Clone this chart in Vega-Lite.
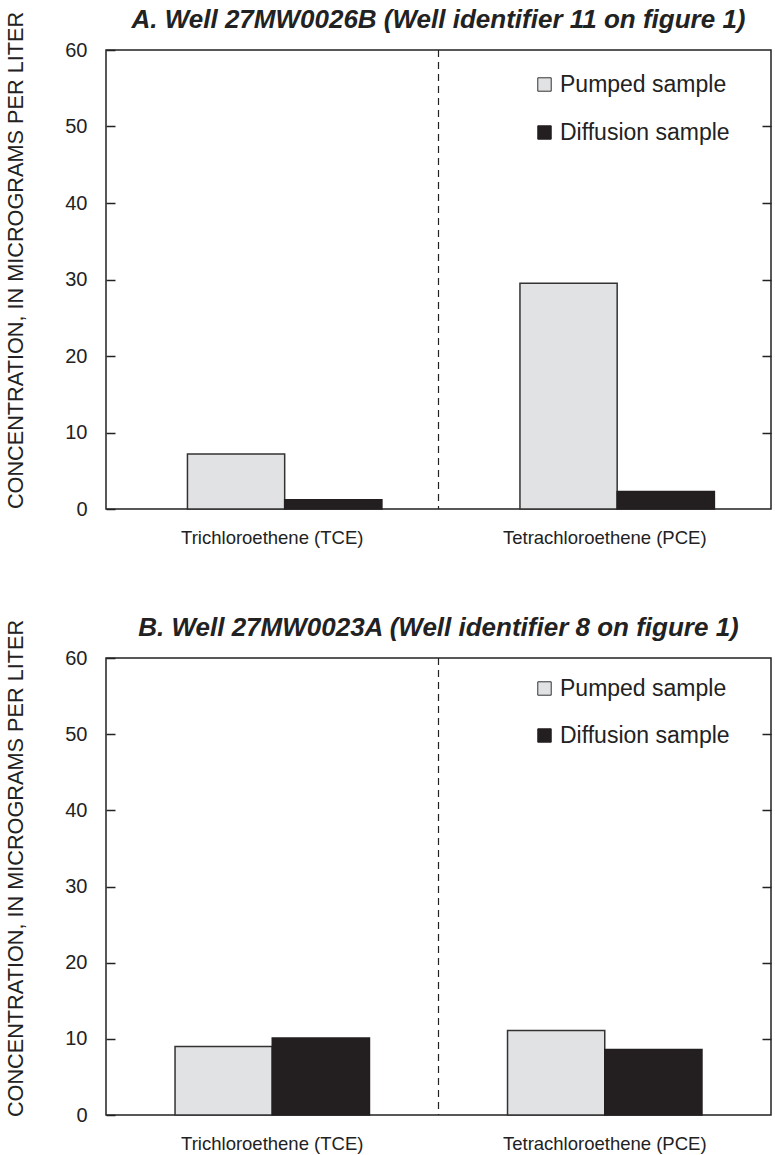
{
  "$schema": "https://vega.github.io/schema/vega-lite/v6.json",
  "background": "white",
  "padding": {"left": 5, "top": 6, "right": 5, "bottom": 0},
  "config": {
    "font": "Liberation Sans",
    "view": {"stroke": "#222", "strokeWidth": 1.5},
    "axis": {"labelColor": "#222", "titleColor": "#222", "labelFont": "Liberation Sans", "titleFont": "Liberation Sans", "domain": false, "grid": false, "labelLimit": 0},
    "legend": {"labelLimit": 0},
    "title": {"font": "Liberation Sans", "fontSize": 26, "fontWeight": "bold", "fontStyle": "italic", "color": "#222", "offset": -22}
  },
  "datasets": {
    "conc": [
      {"panel": "A", "compound": "Trichloroethene (TCE)", "sample": "Pumped sample", "value": 7.2},
      {"panel": "A", "compound": "Trichloroethene (TCE)", "sample": "Diffusion sample", "value": 1.2},
      {"panel": "A", "compound": "Tetrachloroethene (PCE)", "sample": "Pumped sample", "value": 29.5},
      {"panel": "A", "compound": "Tetrachloroethene (PCE)", "sample": "Diffusion sample", "value": 2.3},
      {"panel": "B", "compound": "Trichloroethene (TCE)", "sample": "Pumped sample", "value": 9.0},
      {"panel": "B", "compound": "Trichloroethene (TCE)", "sample": "Diffusion sample", "value": 10.1},
      {"panel": "B", "compound": "Tetrachloroethene (PCE)", "sample": "Pumped sample", "value": 11.1},
      {"panel": "B", "compound": "Tetrachloroethene (PCE)", "sample": "Diffusion sample", "value": 8.6}
    ]
  },
  "vconcat": [
    {
      "title": "A. Well 27MW0026B (Well identifier 11 on figure 1)",
      "width": 665,
      "height": 459,
      "layer": [
        {
          "data": {"name": "conc"},
          "transform": [{"filter": "datum.panel === 'A'"}],
          "mark": {"type": "bar", "strokeWidth": 1.5},
          "encoding": {
            "x": {"field": "compound", "type": "nominal", "sort": ["Trichloroethene (TCE)", "Tetrachloroethene (PCE)"], "scale": {"paddingInner": 0, "paddingOuter": 0},
              "axis": {"title": null, "labelAngle": 0, "labelFontSize": 18.5, "ticks": false, "labelPadding": 19}},
            "xOffset": {"field": "sample", "type": "nominal", "sort": ["Pumped sample", "Diffusion sample"], "scale": {"paddingInner": 0, "paddingOuter": 0.71, "align": 0.59}},
            "y": {"field": "value", "type": "quantitative", "scale": {"domain": [0, 60], "nice": false},
              "axis": {"title": "CONCENTRATION, IN MICROGRAMS PER LITER", "titleFontSize": 21.7, "titleFontWeight": "normal", "labelFontSize": 20, "values": [0, 10, 20, 30, 40, 50, 60], "tickSize": -9, "tickColor": "#222", "tickWidth": 1.5, "labelPadding": 28, "titlePadding": 37, "titleY": 210, "titleAnchor": null, "titleAlign": "center"}},
            "fill": {"field": "sample", "type": "nominal", "scale": {"domain": ["Pumped sample", "Diffusion sample"], "range": ["#e1e2e4", "#231f20"]},
              "legend": {"title": null, "orient": "none", "legendX": 427, "legendY": 23, "labelFontSize": 23, "labelColor": "#222", "symbolType": "square", "symbolSize": 180, "symbolStrokeColor": "#333", "symbolStrokeWidth": 1, "rowPadding": 24, "labelOffset": 4, "padding": 0}},
            "stroke": {"field": "sample", "type": "nominal", "scale": {"domain": ["Pumped sample", "Diffusion sample"], "range": ["#333333", "#231f20"]}, "legend": null}
          }
        },
        {
          "data": {"values": [{"d": 1}]},
          "mark": {"type": "rule", "strokeDash": [7, 5], "strokeWidth": 1.2, "color": "#222"},
          "encoding": {
            "x": {"datum": "Tetrachloroethene (PCE)", "type": "nominal", "bandPosition": 0},
            "y": {"datum": 60, "type": "quantitative", "axis": {"orient": "right", "title": null, "labels": false, "values": [10, 20, 30, 40, 50], "tickSize": -9, "tickColor": "#222", "tickWidth": 1.5}},
            "y2": {"datum": 0}
          }
        }
      ],
      "resolve": {"axis": {"y": "independent"}}
    },
    {
      "title": "B. Well 27MW0023A (Well identifier 8 on figure 1)",
      "width": 665,
      "height": 457,
      "layer": [
        {
          "data": {"name": "conc"},
          "transform": [{"filter": "datum.panel === 'B'"}],
          "mark": {"type": "bar", "strokeWidth": 1.5},
          "encoding": {
            "x": {"field": "compound", "type": "nominal", "sort": ["Trichloroethene (TCE)", "Tetrachloroethene (PCE)"], "scale": {"paddingInner": 0, "paddingOuter": 0},
              "axis": {"title": null, "labelAngle": 0, "labelFontSize": 18.5, "ticks": false, "labelPadding": 19}},
            "xOffset": {"field": "sample", "type": "nominal", "sort": ["Pumped sample", "Diffusion sample"], "scale": {"paddingInner": 0, "paddingOuter": 0.71, "align": 0.5}},
            "y": {"field": "value", "type": "quantitative", "scale": {"domain": [0, 60], "nice": false},
              "axis": {"title": "CONCENTRATION, IN MICROGRAMS PER LITER", "titleFontSize": 21.7, "titleFontWeight": "normal", "labelFontSize": 20, "values": [0, 10, 20, 30, 40, 50, 60], "tickSize": -9, "tickColor": "#222", "tickWidth": 1.5, "labelPadding": 28, "titlePadding": 37, "titleY": 210, "titleAnchor": null, "titleAlign": "center"}},
            "fill": {"field": "sample", "type": "nominal", "scale": {"domain": ["Pumped sample", "Diffusion sample"], "range": ["#e1e2e4", "#231f20"]},
              "legend": {"title": null, "orient": "none", "legendX": 427, "legendY": 19, "labelFontSize": 23, "labelColor": "#222", "symbolType": "square", "symbolSize": 180, "symbolStrokeColor": "#333", "symbolStrokeWidth": 1, "rowPadding": 23, "labelOffset": 4, "padding": 0}},
            "stroke": {"field": "sample", "type": "nominal", "scale": {"domain": ["Pumped sample", "Diffusion sample"], "range": ["#333333", "#231f20"]}, "legend": null}
          }
        },
        {
          "data": {"values": [{"d": 1}]},
          "mark": {"type": "rule", "strokeDash": [7, 5], "strokeWidth": 1.2, "color": "#222"},
          "encoding": {
            "x": {"datum": "Tetrachloroethene (PCE)", "type": "nominal", "bandPosition": 0},
            "y": {"datum": 60, "type": "quantitative", "axis": {"orient": "right", "title": null, "labels": false, "values": [10, 20, 30, 40, 50], "tickSize": -9, "tickColor": "#222", "tickWidth": 1.5}},
            "y2": {"datum": 0}
          }
        }
      ],
      "resolve": {"axis": {"y": "independent"}, "scale": {"fill": "independent", "stroke": "independent"}}
    }
  ],
  "resolve": {"scale": {"fill": "independent", "stroke": "independent", "x": "independent", "xOffset": "independent"}, "legend": {"fill": "independent"}},
  "spacing": 66
}
